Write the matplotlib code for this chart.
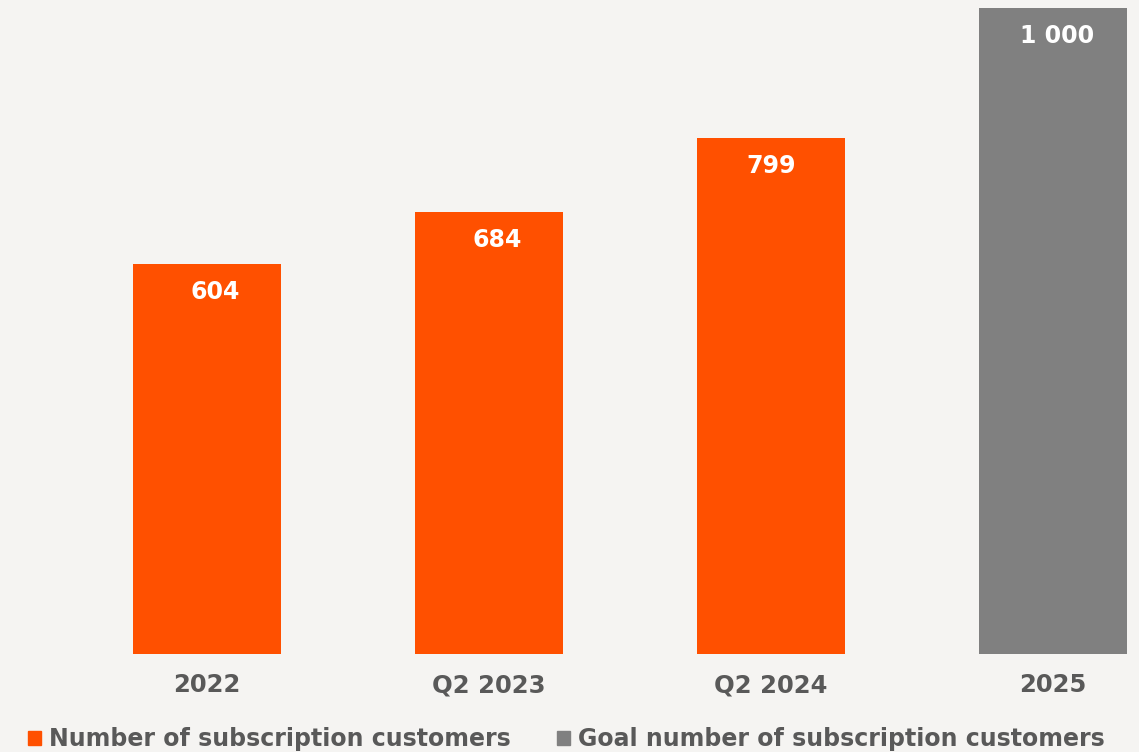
import matplotlib
matplotlib.use("Agg")
import matplotlib.pyplot as plt
from matplotlib.patches import Patch

categories = ["2022", "Q2 2023", "Q2 2024", "2025"]
values = [604, 684, 799, 1000]
labels = ["604", "684", "799", "1 000"]
series_names = ["Number of subscription customers", "Goal number of subscription customers"]

ORANGE = "#FF5000"
GRAY = "#808080"
BG = "#F5F4F2"
TXT = "#595959"
colors = [ORANGE, ORANGE, ORANGE, GRAY]

plt.rcParams['font.family'] = ['DejaVu Sans']

W, H = 1139, 752
fig = plt.figure(figsize=(W/100, H/100), dpi=100, facecolor=BG)
ax = fig.add_axes([0, 98/H, 1, 1 - 98/H], facecolor=BG)

x = list(range(len(categories)))
ax.bar(x, values, width=148/282, color=colors)
ax.set_xlim(-207/282, (W - 207)/282)
ax.set_ylim(0, 1000 * 654 / 646)

label_dx = [8, 8, 0, 4]
for xi, v, lab, dx in zip(x, values, labels, label_dx):
    ax.annotate(lab, (xi, v), xytext=(dx, -28), textcoords="offset pixels",
                ha="center", va="center", color="white", fontsize=17, fontweight="bold")

ax.set_xticks(x)
ax.set_xticklabels(categories, fontsize=17.5, fontweight="bold", color=TXT)
ax.tick_params(axis="x", length=0, pad=14)
ax.set_yticks([])
for s in ax.spines.values():
    s.set_visible(False)

handles = [Patch(color=ORANGE), Patch(color=GRAY)]
leg = fig.legend(handles, series_names, loc="center left", bbox_to_anchor=(28/W, 1 - 739/H),
                 ncol=2, frameon=False, handlelength=0.55, handleheight=0.55,
                 handletextpad=0.35, columnspacing=1.95, borderaxespad=0, borderpad=0,
                 prop={"size": 17, "weight": "bold"})
for t in leg.get_texts():
    t.set_color(TXT)

fig.savefig("out.png", dpi=100, facecolor=BG)
